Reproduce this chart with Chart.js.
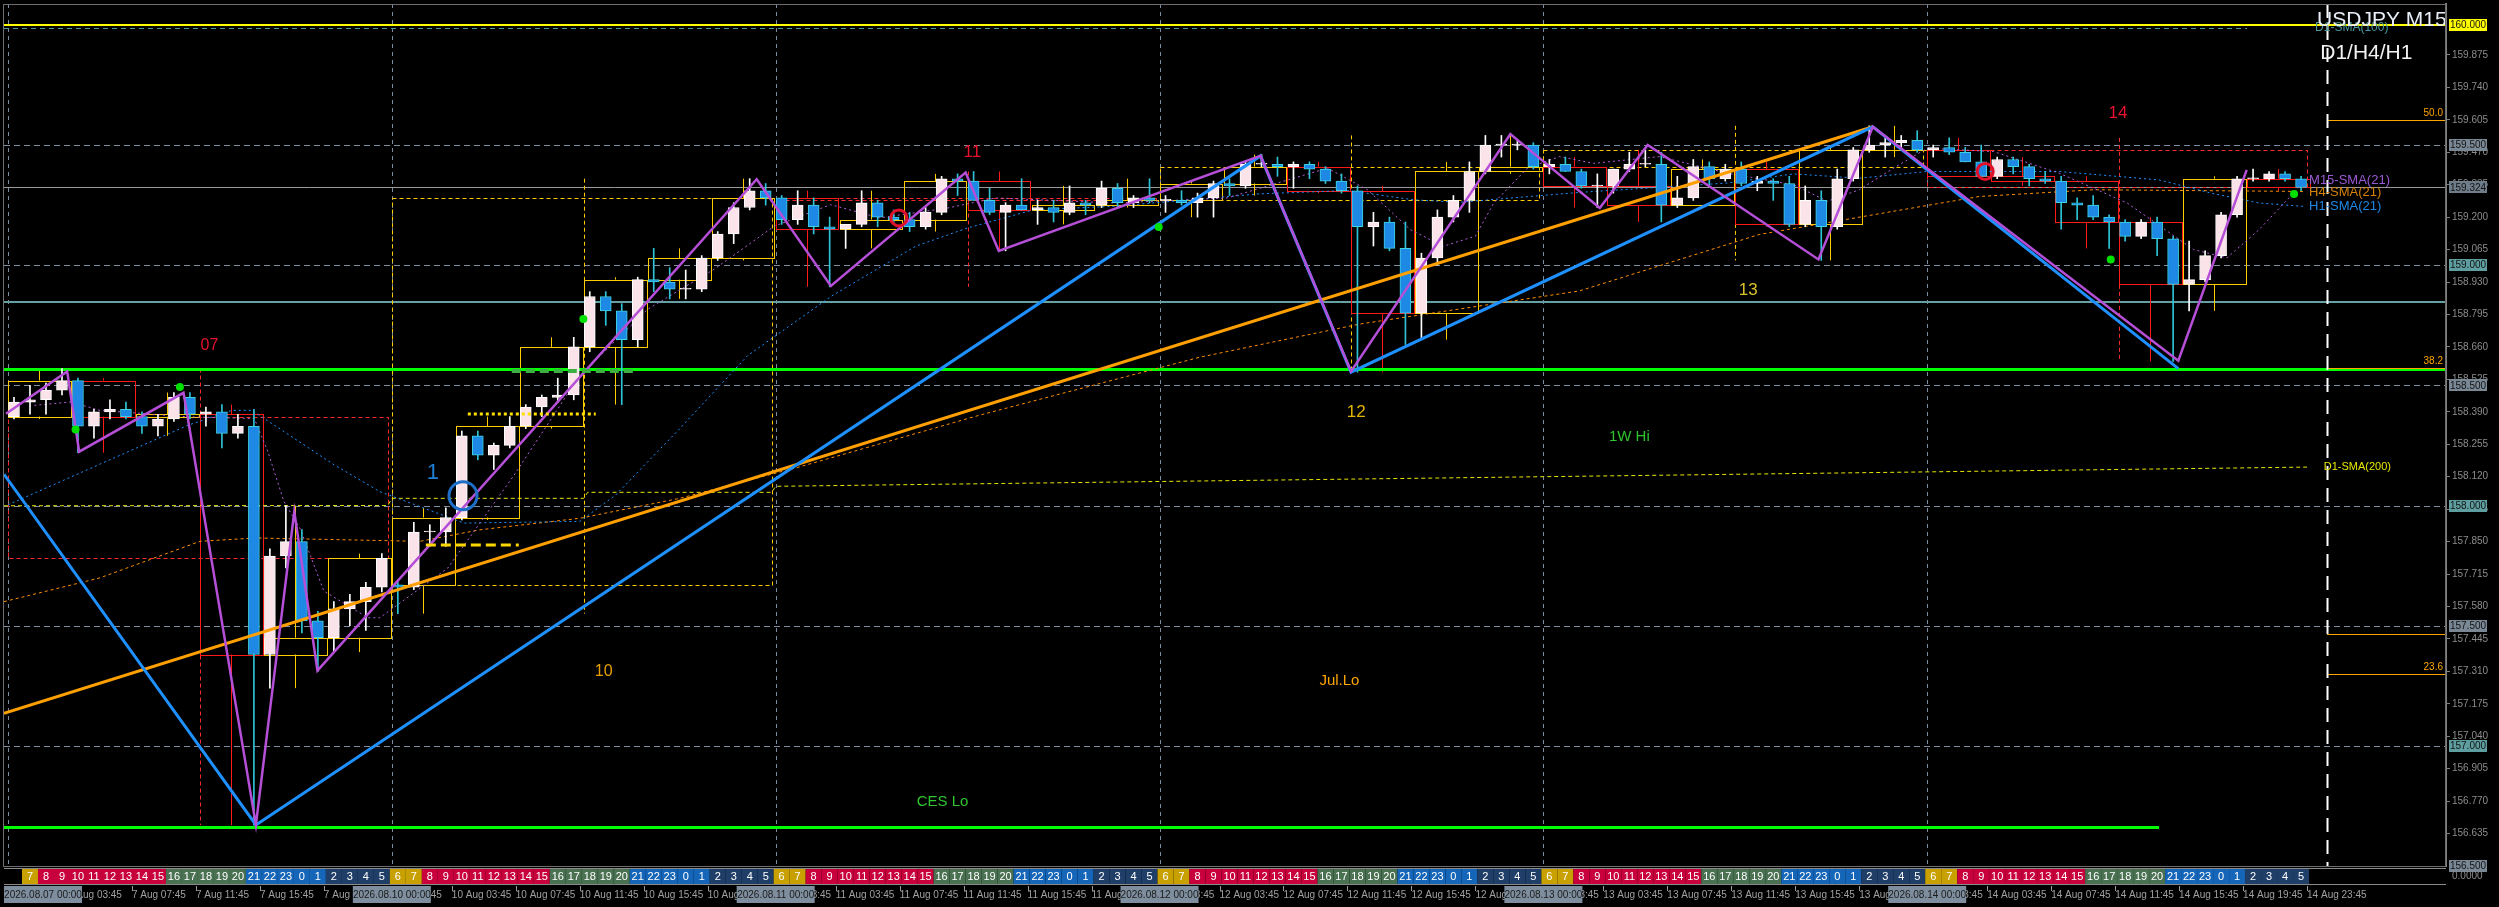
<!DOCTYPE html>
<html>
<head>
<meta charset="utf-8">
<script src="https://cdn.jsdelivr.net/npm/chart.js@4.4.1/dist/chart.umd.min.js"></script>
<style>
  html, body { margin: 0; background: #000; overflow: hidden; }
  canvas { display: block; }
</style>
</head>
<body>
<canvas id="usdjpy" width="2499" height="907"></canvas>
<script>
// ---- data (one candle per hour, 4 M15 bars each) ----
const days = ['7 Aug', '10 Aug', '11 Aug', '12 Aug', '13 Aug', '14 Aug'];
const dayStamps = ['2026.08.07 00:00', '2026.08.10 00:00', '2026.08.11 00:00', '2026.08.12 00:00', '2026.08.13 00:00', '2026.08.14 00:00'];
const tickTimes = ['03:45', '07:45', '11:45', '15:45', '19:45', '23:45'];
const stripOffset = 6; // hour strip shows server hour + 6

const hourOpen = [
  158.37,158.43,158.44,158.48,158.52,158.33,158.39,158.40,158.37,158.33,158.36,158.45,158.38,158.39,158.30,158.33,157.38,157.79,157.85,157.52,157.45,157.57,157.60,157.66,
  157.67,157.66,157.89,157.89,157.95,158.29,158.21,158.25,158.33,158.41,158.45,158.46,158.66,158.87,158.81,158.69,158.94,158.93,158.90,158.90,159.03,159.13,159.24,159.31,
  159.28,159.19,159.25,159.16,159.15,159.17,159.26,159.20,159.19,159.16,159.22,159.36,159.35,159.27,159.22,159.25,159.23,159.24,159.22,159.26,159.25,159.32,159.26,159.28,
  159.27,159.27,159.26,159.28,159.34,159.33,159.42,159.42,159.41,159.42,159.40,159.35,159.31,159.16,159.18,159.07,158.80,159.03,159.20,159.27,159.39,159.50,159.50,159.50,
  159.41,159.42,159.39,159.33,159.33,159.40,159.42,159.42,159.25,159.28,159.41,159.36,159.40,159.34,159.35,159.34,159.17,159.27,159.16,159.36,159.48,159.50,159.51,159.52,
  159.48,159.49,159.47,159.43,159.37,159.44,159.41,159.36,159.35,159.26,159.25,159.20,159.18,159.12,159.18,159.11,158.92,158.94,159.04,159.21,159.36,159.36,159.38,159.36
];
const hourHigh = [
  158.45,158.50,158.51,158.57,158.53,158.40,158.44,158.43,158.39,158.38,158.47,158.47,158.41,158.42,158.38,158.40,157.82,158.00,157.90,157.56,157.60,157.63,157.68,157.80,
  157.69,157.93,157.92,157.99,158.31,158.31,158.26,158.37,158.42,158.46,158.53,158.70,158.89,158.89,158.84,158.95,159.07,158.99,158.98,159.04,159.14,159.26,159.36,159.34,
  159.29,159.31,159.28,159.20,159.17,159.31,159.27,159.23,159.22,159.24,159.37,159.38,159.39,159.32,159.26,159.36,159.27,159.27,159.33,159.27,159.35,159.34,159.29,159.36,
  159.29,159.31,159.30,159.35,159.36,159.43,159.46,159.45,159.43,159.43,159.41,159.38,159.33,159.22,159.20,159.18,159.05,159.23,159.29,159.43,159.54,159.54,159.52,159.51,
  159.44,159.45,159.40,159.38,159.40,159.47,159.48,159.47,159.37,159.44,159.43,159.42,159.43,159.37,159.36,159.37,159.33,159.31,159.40,159.49,159.58,159.53,159.54,159.56,
  159.50,159.53,159.49,159.50,159.45,159.45,159.42,159.39,159.37,159.28,159.29,159.21,159.19,159.19,159.20,159.12,159.10,159.06,159.22,159.37,159.40,159.39,159.39,159.37
];
const hourLow = [
  158.36,158.38,158.38,158.46,158.22,158.28,158.36,158.36,158.30,158.29,158.35,158.36,158.33,158.24,158.28,156.67,157.24,157.74,157.47,157.31,157.39,157.50,157.48,157.64,
  157.55,157.65,157.83,157.83,157.94,158.19,158.15,158.24,158.32,158.37,158.43,158.44,158.64,158.75,158.42,158.66,158.89,158.86,158.86,158.89,159.02,159.09,159.23,159.25,
  159.17,159.17,159.13,158.91,159.07,159.16,159.16,159.17,159.14,159.15,159.21,159.29,159.27,159.21,159.06,159.23,159.17,159.18,159.21,159.21,159.24,159.24,159.24,159.26,
  159.22,159.25,159.20,159.20,159.29,159.32,159.41,159.37,159.32,159.36,159.34,159.30,158.555,159.08,159.06,158.67,158.69,159.00,159.18,159.22,159.38,159.45,159.48,159.40,
  159.38,159.39,159.32,159.24,159.30,159.39,159.41,159.18,159.24,159.27,159.33,159.35,159.33,159.31,159.27,159.16,159.16,159.02,159.15,159.35,159.47,159.45,159.48,159.47,
  159.45,159.46,159.43,159.37,159.36,159.38,159.33,159.34,159.15,159.19,159.19,159.07,159.10,159.11,159.04,158.60,158.81,158.93,159.03,159.20,159.35,159.35,159.35,159.31
];
const hourClose = [
  158.43,158.44,158.48,158.52,158.33,158.39,158.40,158.37,158.33,158.36,158.45,158.38,158.39,158.30,158.33,157.38,157.79,157.85,157.52,157.45,157.57,157.60,157.66,157.78,
  157.66,157.89,157.89,157.95,158.29,158.21,158.25,158.33,158.41,158.45,158.46,158.66,158.87,158.81,158.69,158.94,158.93,158.90,158.90,159.03,159.13,159.24,159.31,159.28,
  159.19,159.25,159.16,159.15,159.17,159.26,159.20,159.19,159.16,159.22,159.36,159.35,159.27,159.22,159.25,159.23,159.24,159.22,159.26,159.25,159.32,159.26,159.28,159.27,
  159.27,159.26,159.28,159.34,159.33,159.42,159.42,159.41,159.42,159.40,159.35,159.31,159.16,159.18,159.07,158.80,159.03,159.20,159.27,159.39,159.50,159.50,159.50,159.41,
  159.42,159.39,159.33,159.33,159.40,159.42,159.42,159.25,159.28,159.41,159.36,159.40,159.34,159.35,159.34,159.17,159.27,159.16,159.36,159.48,159.50,159.51,159.52,159.48,
  159.49,159.47,159.43,159.37,159.44,159.41,159.36,159.35,159.26,159.25,159.20,159.18,159.12,159.18,159.11,158.92,158.94,159.04,159.21,159.36,159.36,159.38,159.36,159.324
];

// moving averages (x = M15 bar index, 0 = 7 Aug 00:00)
const m15SmaBar = [6.6,15.75,23,45,61.6,65,69,73,79,90,93,110,126.6,143,160,176.6,191.6,205.75,218,235,247,276.6,305,330,340,350.75,359,367,371.6,380,388,396.6,413,430,446.6,455,463,471.6,480,496.6,513,530,546.6,555,563,571.6,574];
const m15SmaVal = [158.417,158.431,158.396,158.369,158.362,158.224,158.017,157.906,157.644,157.533,157.533,157.740,158.127,158.541,158.817,158.983,159.162,159.252,159.197,159.238,159.280,159.259,159.280,159.404,159.314,159.148,159.079,159.121,159.259,159.404,159.452,159.424,159.452,159.383,159.335,159.266,159.314,159.404,159.487,159.473,159.383,159.259,159.065,159.031,159.148,159.300,159.342];
const h1SmaBar = [0,45,56,61,81.6,93,114,143,152,168,185,206,227,240,256.6,276.6,313,335,351.6,363,393,430,446.6,463,480,513,538,551,563,574];
const h1SmaVal = [158.003,158.334,158.396,158.396,158.169,158.058,157.927,157.934,158.044,158.320,158.624,158.872,159.079,159.155,159.231,159.245,159.297,159.311,159.272,159.262,159.303,159.342,159.380,159.362,159.390,159.390,159.355,159.300,159.259,159.245];
const h4SmaBar = [-1,23,48,62,103,118,143,168,198,243,298,338,393,438,493,521.6,574];
const h4SmaVal = [157.600,157.699,157.851,157.865,157.851,157.899,157.947,158.030,158.161,158.376,158.617,158.755,158.893,159.128,159.286,159.314,159.307];
const d1SmaBar = [-1,95,96,144,145,191,192,288,384,480,575];
const d1SmaVal = [157.999,158.000,158.030,158.030,158.055,158.055,158.080,158.100,158.120,158.140,158.160];

// zigzags and trend line
const zzM15Bar = [-0.5,14.8,17.8,43.9,62,71.6,77.4,187.25,205.8,239.5,247.8,313.25,335.9,375.75,398.1,410.1,452.8,466.4,542.8,559.9];
const zzM15Val = [158.382,158.558,158.224,158.469,156.671,157.975,157.313,159.358,158.914,159.386,159.059,159.455,158.558,159.546,159.238,159.500,159.024,159.576,158.603,159.397];
const zzH1Bar = [-1,62,313.25,335.9,466.4,542.8];
const zzH1Val = [158.130,156.671,159.455,158.555,159.576,158.570];
const trendBar = [-1,466.4];
const trendVal = [157.135,159.576];

// levels
const roundLevels = [159.5, 159.0, 158.5, 158.0, 157.5, 157.0];
const topLevel = 160.0;
const sma100Level = 159.988;
const bidPrice = 159.324;
const tealLevel = 158.849;
const weekHigh = 158.569;
const cesLow = 156.664;
const cesLowEnd = 538;
const fibPrices = [159.605, 158.572, 157.300];
const fibNames = ['50.0', '38.2', '23.6'];
const extraOrange = 157.466;
const shiftBar = 580;

// markers
const dotBar = [16.9, 43, 143.9, 287.8, 525.9, 571.75];
const dotVal = [158.316, 158.493, 158.776, 159.159, 159.024, 159.296];
const ringBar = [113.8, 222.8, 494.5];
const ringVal = [158.041, 159.197, 159.390];
const segFrom = [115, 126, 104.5];
const segTo = [147, 157.5, 127.75];
const segVal = [158.382, 158.559, 157.837];

const noteText = ['07', '10', '11', '12', '13', '14', '1W Hi', 'Jul.Lo', 'CES Lo', '1'];
const noteBar = [50.4, 149, 241.2, 337.2, 435.25, 527.7, 405.5, 333, 233.75, 106.25];
const noteVal = [158.665, 157.309, 159.469, 158.389, 158.894, 159.631, 158.286, 157.269, 156.766, 158.135];

const priceTicks = [156.635,156.770,156.905,157.040,157.175,157.310,157.445,157.580,157.715,157.850,157.985,158.120,158.255,158.390,158.525,158.660,158.795,158.930,159.065,159.200,159.335,159.470,159.605,159.740,159.875];
const markPrices = [160.0, 159.5, 159.324, 159.0, 158.5, 158.0, 157.5, 157.0, 156.5];

// ---- styles ----
const FONT = '"Liberation Sans", Arial, sans-serif';
const noteColor = ['#e8122e', '#e8a000', '#e8122e', '#e0b400', '#dcc22a', '#e8122e', '#2fc62f', '#ffa500', '#2fc62f', '#1e7fd6'];
const noteSize = [16, 16, 17, 17, 17, 17, 15, 15, 15, 22];
const markColors = ['#ffff00', '#7a8896', '#6f7c89', '#5f9ea0', '#7a8896', '#5f9ea0', '#7a8896', '#5f9ea0', '#7a8896'];
const ringColor = ['#1e6fc8', '#e0102a', '#e0102a'];
const ringRadius = [14, 8, 8];
const segColor = ['#ffe000', '#3cb043', '#ffd700'];
const segWidth = [3, 4, 3];
const segDash = [[3, 3], [9, 5], [10, 5]];

const pts = (bars, vals) => bars.map((b, i) => ({ x: b, y: vals[i] }));
const candleX = hourOpen.map((_, h) => 4 * h + 1.5);
const isBull = i => hourClose[i] >= hourOpen[i];

const tickBars = [];
const tickText = [];
days.forEach((d, di) => tickTimes.forEach((t, ti) => {
  tickBars.push(96 * di + 16 * ti + 15);
  tickText.push(d + ' ' + t);
}));

function hourGroup(start, n) {
  let hi = -Infinity, lo = Infinity;
  for (let i = start; i < start + n; i++) {
    hi = Math.max(hi, hourHigh[i]);
    lo = Math.min(lo, hourLow[i]);
  }
  return { o: hourOpen[start], c: hourClose[start + n - 1], hi, lo };
}

function label(ctx, str, px, py, color, size, align, base) {
  ctx.font = size + 'px ' + FONT;
  ctx.fillStyle = color;
  ctx.textAlign = align || 'center';
  ctx.textBaseline = base || 'middle';
  ctx.fillText(str, px, py);
}

const overlay = {
  id: 'overlay',
  beforeDatasetsDraw(chart) {
    const { ctx, chartArea: a, scales: { x, y } } = chart;
    const hline = (p, b0, b1, color, w, dash) => {
      const py = Math.round(y.getPixelForValue(p)) + (w % 2 ? 0.5 : 0);
      ctx.beginPath();
      ctx.setLineDash(dash || []);
      ctx.strokeStyle = color;
      ctx.lineWidth = w;
      ctx.moveTo(b0 === null ? a.left : x.getPixelForValue(b0), py);
      ctx.lineTo(b1 === null ? a.right : x.getPixelForValue(b1), py);
      ctx.stroke();
    };
    const vline = (b, p0, p1, color, w, dash) => {
      const px = Math.round(x.getPixelForValue(b)) + 0.5;
      ctx.beginPath();
      ctx.setLineDash(dash || []);
      ctx.strokeStyle = color;
      ctx.lineWidth = w;
      ctx.moveTo(px, p0 === null ? a.top : y.getPixelForValue(p0));
      ctx.lineTo(px, p1 === null ? a.bottom : y.getPixelForValue(p1));
      ctx.stroke();
    };
    const box = (b0, b1, p0, p1, color, dash) => {
      const l = Math.round(x.getPixelForValue(b0)) + 0.5;
      const r = Math.round(x.getPixelForValue(b1)) + 0.5;
      const t = Math.round(y.getPixelForValue(Math.max(p0, p1))) + 0.5;
      const bt = Math.round(y.getPixelForValue(Math.min(p0, p1))) + 0.5;
      ctx.setLineDash(dash || []);
      ctx.strokeStyle = color;
      ctx.lineWidth = 1;
      ctx.strokeRect(l, t, r - l, bt - t);
    };

    ctx.save();
    ctx.beginPath();
    ctx.rect(a.left, a.top, a.right - a.left, a.bottom - a.top);
    ctx.clip();

    // day separators
    for (let d = 0; d < days.length; d++) vline(96 * d, null, null, '#7d8c9c', 1, [4, 4]);

    // round number levels and other horizontals
    roundLevels.forEach(p => hline(p, null, null, '#7d8fa0', 1, [6, 4]));
    hline(sma100Level, null, 560, '#4a9a9a', 1, [5, 4]);
    hline(topLevel, null, null, '#ffff00', 2);
    hline(tealLevel, null, null, '#64a0a4', 2);
    hline(bidPrice, null, null, '#9a9a9a', 1);

    // D1 boxes (dashed) with the day's range at mid-day
    for (let d = 0; d < days.length; d++) {
      const g = hourGroup(24 * d, 24);
      const col = g.c < g.o ? '#ff2a2a' : '#ffcc00';
      box(96 * d, 96 * d + 95, g.o, g.c, col, [4, 3]);
      vline(96 * d + 48, g.hi, g.lo, col, 1, [4, 3]);
    }
    // H4 boxes (solid)
    for (let k = 0; k < 36; k++) {
      const g = hourGroup(4 * k, 4);
      const col = g.c < g.o ? '#ff1a1a' : '#ffcc00';
      box(16 * k, 16 * k + 15.7, g.o, g.c, col);
      vline(16 * k + 7.75, g.hi, Math.max(g.o, g.c), col, 1);
      vline(16 * k + 7.75, Math.min(g.o, g.c), g.lo, col, 1);
    }

    hline(weekHigh, null, null, '#00ff00', 3);
    hline(cesLow, null, cesLowEnd, '#00ff00', 3);
    fibPrices.forEach(p => hline(p, shiftBar, null, '#ffa500', 1));
    hline(extraOrange, shiftBar, null, '#ffa500', 1);
    ctx.restore();
  },

  afterDatasetsDraw(chart) {
    const { ctx, chartArea: a, scales: { x, y } } = chart;
    ctx.save();
    ctx.beginPath();
    ctx.rect(a.left, a.top, a.right - a.left, a.bottom - a.top);
    ctx.clip();

    segVal.forEach((p, i) => {
      const py = Math.round(y.getPixelForValue(p));
      ctx.beginPath();
      ctx.setLineDash(segDash[i]);
      ctx.strokeStyle = segColor[i];
      ctx.lineWidth = segWidth[i];
      ctx.moveTo(x.getPixelForValue(segFrom[i]), py);
      ctx.lineTo(x.getPixelForValue(segTo[i]), py);
      ctx.stroke();
    });
    ctx.setLineDash([]);

    ringVal.forEach((p, i) => {
      ctx.beginPath();
      ctx.strokeStyle = ringColor[i];
      ctx.lineWidth = 3;
      ctx.arc(x.getPixelForValue(ringBar[i]), y.getPixelForValue(p), ringRadius[i], 0, Math.PI * 2);
      ctx.stroke();
    });

    noteText.forEach((t, i) => {
      label(ctx, t, x.getPixelForValue(noteBar[i]), y.getPixelForValue(noteVal[i]), noteColor[i], noteSize[i]);
    });

    // shift line
    const sx = Math.round(x.getPixelForValue(shiftBar)) + 0.5;
    ctx.beginPath();
    ctx.setLineDash([14, 8]);
    ctx.strokeStyle = '#ffffff';
    ctx.lineWidth = 2;
    ctx.moveTo(sx, a.top);
    ctx.lineTo(sx, a.bottom);
    ctx.stroke();
    ctx.setLineDash([]);

    // fib labels
    fibPrices.forEach((p, i) => label(ctx, fibNames[i], a.right - 3, y.getPixelForValue(p) - 2, '#ffa500', 10, 'right', 'bottom'));

    // indicator names at the right end
    const lastBar = 574;
    const nameX = x.getPixelForValue(lastBar) + 6;
    label(ctx, 'M15-SMA(21)', nameX, y.getPixelForValue(m15SmaVal[m15SmaVal.length - 1]) - 3, '#9b5ad6', 13, 'left');
    label(ctx, 'H4-SMA(21)', nameX, y.getPixelForValue(h4SmaVal[h4SmaVal.length - 1]) + 1, '#d4820a', 13, 'left');
    label(ctx, 'H1-SMA(21)', nameX, y.getPixelForValue(h1SmaVal[h1SmaVal.length - 1]), '#1e88e5', 13, 'left');
    label(ctx, 'D1-SMA(200)', x.getPixelForValue(596), y.getPixelForValue(d1SmaVal[d1SmaVal.length - 1]), '#e6e600', 11, 'right');
    label(ctx, 'D1-SMA(100)', x.getPixelForValue(577), y.getPixelForValue(sma100Level), '#4a9a9a', 12, 'left');

    // title
    label(ctx, 'USDJPY M15', x.getPixelForValue(577.5), 26, '#e8eef8', 21, 'left', 'alphabetic');
    label(ctx, 'D1/H4/H1', x.getPixelForValue(578.3), 53, '#f2f2f2', 21, 'left');
    ctx.restore();
  },

  afterDraw(chart) {
    const { ctx, chartArea: a, scales: { x, y } } = chart;
    ctx.save();

    // frame
    ctx.strokeStyle = '#6e6e6e';
    ctx.lineWidth = 1;
    ctx.strokeRect(a.left - 0.5, a.top + 0.5, a.right - a.left, a.bottom - a.top);

    // price marks on the axis
    markPrices.forEach((p, i) => {
      const py = y.getPixelForValue(p);
      ctx.fillStyle = markColors[i];
      ctx.fillRect(a.right + 3, Math.round(py) - 6, 38, 12);
      label(ctx, p.toFixed(3), a.right + 22, py + 0.5, '#121212', 10);
    });

    // hour strip sub-window
    const top = a.bottom + 3, bot = a.bottom + 18;
    ctx.strokeStyle = '#8a8a8a';
    ctx.beginPath();
    ctx.moveTo(a.left, top - 0.5); ctx.lineTo(a.right, top - 0.5);
    ctx.moveTo(a.left, bot + 0.5); ctx.lineTo(a.right, bot + 0.5);
    ctx.stroke();
    for (let h = 1; h < hourOpen.length; h++) {
      const hr = (h + stripOffset) % 24;
      let col = '#1f3e68';
      if (hr === 6 || hr === 7) col = '#c8a000';
      else if (hr >= 8 && hr <= 15) col = '#c8003c';
      else if (hr >= 16 && hr <= 20) col = '#4a7252';
      else if (hr >= 21 || hr <= 1) col = '#1565b8';
      const l = x.getPixelForValue(4 * h - 0.5), r = x.getPixelForValue(4 * h + 3.5);
      ctx.fillStyle = col;
      ctx.fillRect(l, top, r - l, bot - top);
      label(ctx, String(hr), (l + r) / 2, (top + bot) / 2 + 0.5, '#ffffff', 11);
    }
    label(ctx, '0.0000', a.right + 6, (top + bot) / 2, '#8c8c8c', 10, 'left');

    // time tick marks under the strip
    ctx.strokeStyle = '#9a9a9a';
    ctx.beginPath();
    tickBars.forEach(b => {
      const px = Math.round(x.getPixelForValue(b)) + 0.5;
      ctx.moveTo(px, bot + 2); ctx.lineTo(px, bot + 7);
    });
    ctx.stroke();

    // day stamps
    dayStamps.forEach((s, d) => {
      const cx = x.getPixelForValue(96 * d);
      const w = 78;
      const l = Math.max(a.left, cx - w / 2);
      ctx.fillStyle = '#7e8e9e';
      ctx.fillRect(l, bot + 2, w, 17);
      label(ctx, s, l + w / 2, bot + 11, '#1a1a1a', 10);
    });
    ctx.restore();
  }
};

new Chart(document.getElementById('usdjpy'), {
  type: 'line',
  data: {
    datasets: [
      { type: 'line', data: pts(zzH1Bar, zzH1Val), borderColor: '#1e90ff', borderWidth: 3, pointRadius: 0, order: 2 },
      { type: 'line', data: pts(zzM15Bar, zzM15Val), borderColor: '#b64fd8', borderWidth: 2.5, pointRadius: 0, order: 1 },
      { type: 'line', data: pts(trendBar, trendVal), borderColor: '#ffa000', borderWidth: 3, pointRadius: 0, order: 3 },
      { type: 'line', data: pts(dotBar, dotVal), showLine: false, pointRadius: 4, pointBackgroundColor: '#00e000', pointBorderWidth: 0, order: 0 },
      {
        type: 'bar', stack: 'candle', order: 5, barThickness: 1,
        data: candleX.map((cx, i) => ({ x: cx, y: [hourLow[i], hourHigh[i]] })),
        backgroundColor: c => isBull(c.dataIndex) ? '#ffffff' : '#2ec4d6'
      },
      {
        type: 'bar', stack: 'candle', order: 4, barThickness: 11, borderWidth: 1, borderSkipped: false,
        data: candleX.map((cx, i) => {
          const lo = Math.min(hourOpen[i], hourClose[i]);
          const hi = Math.max(hourOpen[i], hourClose[i]);
          return { x: cx, y: [lo, Math.max(hi, lo + 0.004)] };
        }),
        backgroundColor: c => isBull(c.dataIndex) ? '#fbe4e9' : '#1e88e5',
        borderColor: c => isBull(c.dataIndex) ? '#ffffff' : '#3fd3e3'
      },
      { type: 'line', data: pts(m15SmaBar, m15SmaVal), borderColor: '#b060d8', borderWidth: 1, borderDash: [2, 3], pointRadius: 0, order: 6 },
      { type: 'line', data: pts(h1SmaBar, h1SmaVal), borderColor: '#1e90ff', borderWidth: 1, borderDash: [2, 3], pointRadius: 0, order: 7 },
      { type: 'line', data: pts(h4SmaBar, h4SmaVal), borderColor: '#ff8c00', borderWidth: 1, borderDash: [3, 3], pointRadius: 0, order: 8 },
      { type: 'line', data: pts(d1SmaBar, d1SmaVal), borderColor: '#e6e600', borderWidth: 1, borderDash: [4, 3], pointRadius: 0, order: 9 }
    ]
  },
  options: {
    responsive: false,
    devicePixelRatio: 1,
    animation: false,
    events: [],
    layout: { padding: { left: 3, top: 0, right: 0, bottom: 0 } },
    plugins: { legend: { display: false }, tooltip: { enabled: false } },
    elements: { line: { tension: 0, fill: false } },
    scales: {
      x: {
        type: 'linear', min: -1, max: 609.75, offset: false,
        afterBuildTicks: s => { s.ticks = tickBars.map(v => ({ value: v })); },
        afterFit: s => { s.height = 41; s.paddingLeft = 0; s.paddingRight = 0; },
        ticks: {
          color: '#a0a0a0', font: { size: 10, family: FONT }, padding: 23,
          maxRotation: 0, autoSkip: false, align: 'start',
          callback: (v, i) => tickText[i]
        },
        grid: { display: false, drawTicks: false, offset: false },
        border: { display: false }
      },
      y: {
        type: 'linear', position: 'right', min: 156.5, max: 160.087, stacked: false, beginAtZero: false,
        afterBuildTicks: s => { s.ticks = priceTicks.map(v => ({ value: v })); },
        afterFit: s => { s.width = 53; s.paddingTop = 0; s.paddingBottom = 0; },
        ticks: { color: '#8c8c8c', font: { size: 10, family: FONT }, padding: 2, callback: v => Number(v).toFixed(3) },
        grid: { drawOnChartArea: false, color: '#808080', tickLength: 4 },
        border: { color: '#808080', width: 2 }
      }
    }
  },
  plugins: [overlay]
});
</script>
</body>
</html>
